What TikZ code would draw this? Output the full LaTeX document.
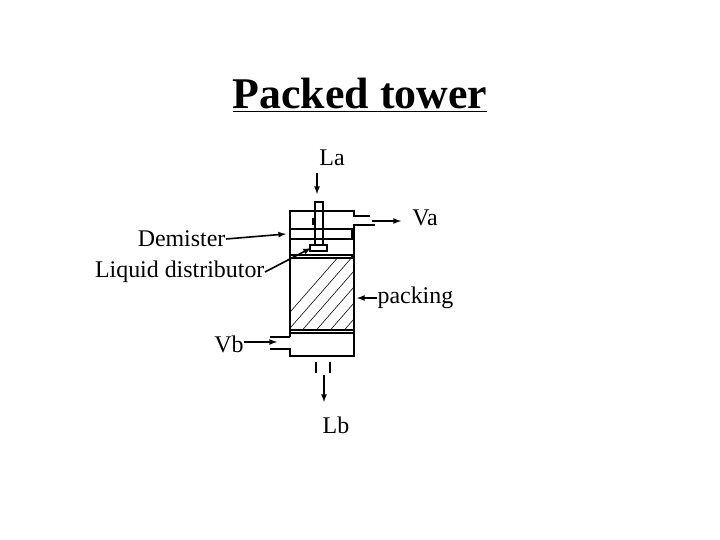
\documentclass[tikz,border=0pt]{standalone}
\usepackage{fontspec}
\setmainfont{Liberation Serif}
\begin{document}
\begin{tikzpicture}[x=1bp,y=-1bp,line width=1.2bp,
  lab/.style={font=\fontsize{24}{26}\selectfont,inner sep=0pt},
  arr/.style={-latex,line width=1.6bp}]
\useasboundingbox (0,0) rectangle (720,540);
\node[font=\fontsize{44}{48}\selectfont\bfseries,inner sep=0pt] (title) at (360,95) {\underline{Packed tower}};
% column
\draw (290,337) -- (290,211) -- (354,211) -- (354,216) -- (370,216);
\draw (375,225) -- (354,225) -- (354,356) -- (290,356) -- (290,349) -- (270,349);
\draw (270,337) -- (290,337);
\draw (316,362) -- (316,373) (330,362) -- (330,373);
% inlet pipe and distributor
\draw (315,202) rectangle (323,245);
\draw (310,245) rectangle (327,251);
\draw (290,229) rectangle (352,239);
\draw[line width=2bp] (313,218) -- (313,225);
% packing
\draw (290,255) rectangle (352,258);
\draw (290,330) -- (354,330) (290,333) -- (354,333);
\begin{scope}
\clip (290,258) rectangle (354,330);
\foreach \i in {0,...,9} \draw[line width=0.6bp] (270+\i*14,335) -- (340+\i*14,255);
\end{scope}
% labels
\coordinate (lat) at (317,173);
\coordinate (lah) at (317,194);
\node[lab] (La) at (332,158) {La};
\node[lab] (Va) at (425,218) {Va};
\node[lab,anchor=east] (dem) at (226,239) {Demister};
\node[lab,anchor=east] (ld) at (265,272) {Liquid distributor};
\node[lab,anchor=west] (pk) at (377,298) {packing};
\node[lab] (Vb) at (229,344) {Vb};
\node[lab] (Lb) at (336,425) {Lb};
\draw[arr] (lat) -- (lah);
\draw[arr] (372,221) -- (401,221);
\draw[arr] (dem.east) -- (286,234);
\draw[arr] (ld.east) -- (311,248);
\draw[arr] (pk.west) -- (357,298);
\draw[arr] (Vb.east |- 0,342) -- (277,342);
\draw[arr] (324,375) -- (324,402);
\end{tikzpicture}
\end{document}
